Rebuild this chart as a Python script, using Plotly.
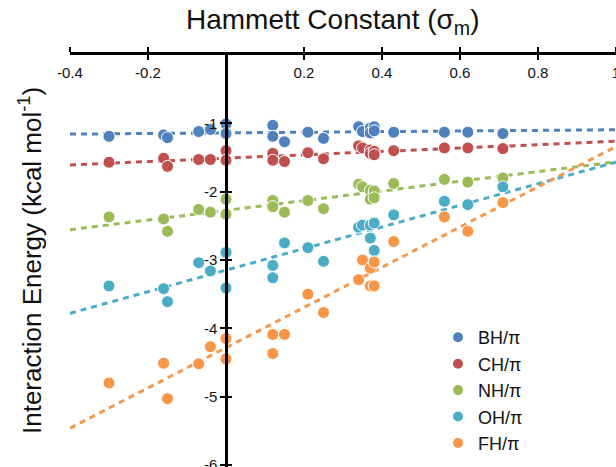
import numpy as np
import plotly.graph_objects as go

# Hammett constants (sigma_m) of the substituents
sigma_m = [-0.30, -0.16, -0.15, -0.07, -0.04, 0.00, 0.00, 0.12, 0.12, 0.15, 0.21,
           0.25, 0.34, 0.35, 0.37, 0.37, 0.38, 0.38, 0.43, 0.56, 0.62, 0.71]

# Interaction energies (kcal/mol) for each X-H/pi complex
bh_pi = [-1.19, -1.17, -1.21, -1.12, -1.09, -1.01, -1.15, -1.03, -1.19, -1.27, -1.13,
         -1.22, -1.05, -1.12, -1.07, -1.14, -1.05, -1.11, -1.13, -1.13, -1.13, -1.15]
ch_pi = [-1.57, -1.51, -1.63, -1.53, -1.53, -1.40, -1.54, -1.44, -1.54, -1.56, -1.43,
         -1.52, -1.33, -1.36, -1.39, -1.44, -1.41, -1.46, -1.40, -1.36, -1.36, -1.37]
nh_pi = [-2.37, -2.40, -2.58, -2.26, -2.30, -2.11, -2.33, -2.13, -2.22, -2.30, -2.13,
         -2.25, -1.89, -1.93, -1.98, -2.11, -1.99, -2.09, -1.88, -1.82, -1.86, -1.80]
oh_pi = [-3.38, -3.42, -3.61, -3.04, -3.16, -2.89, -3.41, -3.08, -3.26, -2.75, -2.82,
         -3.02, -2.52, -2.49, -2.49, -2.68, -2.46, -2.86, -2.34, -2.14, -2.19, -1.93]
fh_pi = [-4.80, -4.51, -5.03, -4.52, -4.27, -4.15, -4.45, -4.09, -4.37, -4.09, -3.50,
         -3.77, -3.29, -3.00, -3.12, -3.38, -3.03, -3.38, -2.73, -2.37, -2.58, -2.16]

series_names = ["BH/π", "CH/π", "NH/π", "OH/π", "FH/π"]
series_values = [bh_pi, ch_pi, nh_pi, oh_pi, fh_pi]
series_colors = ["#4F81BD", "#C0504D", "#9BBB59", "#4BACC6", "#F79646"]

x_tickvals = [-0.4, -0.2, 0.2, 0.4, 0.6, 0.8, 1.0]
x_ticktext = ["-0.4", "-0.2", "0.2", "0.4", "0.6", "0.8", "1"]
y_tickvals = [-1, -2, -3, -4, -5, -6]
y_ticktext = ["-1", "-2", "-3", "-4", "-5", "-6"]

x_range = [-0.4, 1.0]
y_range = [-6.03, 0.0]

FONT = "Liberation Sans, Arial, sans-serif"
INK = "#111111"

fig = go.Figure()

# least-squares trend line for each series, across the full x range
for name, vals, col in zip(series_names, series_values, series_colors):
    slope, icpt = np.polyfit(sigma_m, vals, 1)
    xs = np.array(x_range)
    fig.add_trace(go.Scatter(
        x=xs, y=slope * xs + icpt, mode="lines",
        line=dict(color=col, width=3, dash="6px,5px"),
        showlegend=False, hoverinfo="skip"))

# data points
for name, vals, col in zip(series_names, series_values, series_colors):
    fig.add_trace(go.Scatter(
        x=sigma_m, y=vals, mode="markers", name=name,
        marker=dict(color=col, size=12, line=dict(color="white", width=1))))

# y axis sits at sigma = 0
y_pos = (0 - x_range[0]) / (x_range[1] - x_range[0])

axis_common = dict(showgrid=False, zeroline=False, ticklen=5, tickwidth=2,
                   tickcolor="black", automargin=False)

fig.update_layout(
    width=616, height=467,
    margin=dict(l=70, r=0, t=55, b=0),
    paper_bgcolor="white", plot_bgcolor="white",
    font=dict(family=FONT, color=INK),
    xaxis=dict(range=x_range, side="top", tickvals=x_tickvals, ticktext=x_ticktext,
               ticks="outside", ticklabelposition="inside",
               ticklabeloverflow="allow", ticklabelstandoff=13,
               showline=True, linewidth=2.5, linecolor="black",
               tickfont=dict(size=15, family=FONT, color=INK), **axis_common),
    xaxis2=dict(range=x_range, side="top", overlaying="x", tickvals=x_tickvals,
                ticks="inside", showticklabels=False, showline=False, **axis_common),
    yaxis=dict(range=y_range, anchor="free", position=y_pos,
               tickvals=y_tickvals, ticktext=y_ticktext, ticks="outside",
               ticklabeloverflow="allow",
               showline=True, linewidth=2.5, linecolor="black",
               tickfont=dict(size=15, family=FONT, color=INK), **axis_common),
    yaxis2=dict(range=y_range, anchor="free", position=y_pos, overlaying="y",
                tickvals=y_tickvals, ticks="inside", showticklabels=False,
                showline=False, **axis_common),
    legend=dict(x=0.674, y=0.359, xanchor="left", yanchor="top",
                font=dict(size=18, family=FONT, color=INK),
                bgcolor="rgba(0,0,0,0)", tracegroupgap=0, itemsizing="constant"),
    annotations=[
        dict(text="Hammett Constant (σ<sub>m</sub>)", xref="paper", yref="paper",
             x=0.48, y=1.0, yshift=34, xanchor="center", yanchor="middle",
             showarrow=False, font=dict(size=28, family=FONT, color=INK)),
        dict(text="Interaction Energy (kcal mol<sup>-1</sup>)", xref="paper",
             yref="paper", x=0.0, xshift=-40, y=0.5, textangle=-90,
             xanchor="center", yanchor="middle", showarrow=False,
             font=dict(size=26, family=FONT, color=INK)),
    ],
)

# invisible anchors so the overlay tick axes are drawn
fig.add_trace(go.Scatter(x=x_range, y=y_range, xaxis="x2", yaxis="y2",
                         mode="markers", marker=dict(opacity=0),
                         showlegend=False, hoverinfo="skip"))

fig.write_html("out.html")
